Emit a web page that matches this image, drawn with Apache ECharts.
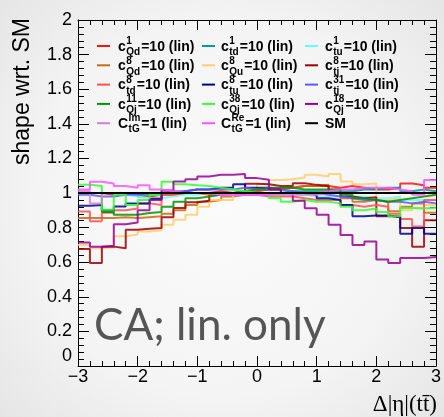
<!DOCTYPE html>
<html><head><meta charset="utf-8">
<script src="https://cdn.jsdelivr.net/npm/echarts@6/dist/echarts.min.js"></script>
<style>html,body{margin:0;padding:0;overflow:hidden}#c{width:444px;height:417px}</style>
</head><body><div id="c"></div>
<script>
// ---- data ----
const xMin = -3, binWidth = 0.2;
const xTicks = [-3, -2, -1, 0, 1, 2, 3];
const yTicks = [0, 0.2, 0.4, 0.6, 0.8, 1, 1.2, 1.4, 1.6, 1.8, 2];

const c1Qd  = [1.00,1.00,0.99,0.99,1.00,0.98,0.97,0.99,1.00,1.00,1.00,1.01,1.00,1.00,1.01,1.02,1.02,1.03,1.04,1.04,1.04,1.03,1.04,1.03,1.02,1.02,1.03,1.055,1.045,1.03];
const c1td  = [1.00,1.00,1.00,1.00,0.99,0.99,0.99,1.00,1.00,1.00,1.00,1.00,1.00,1.00,1.00,1.00,1.00,1.01,1.01,1.01,1.01,1.01,1.01,1.02,1.02,1.03,1.03,1.01,1.02,1.01];
const c1tu  = [1.00,1.00,1.00,0.99,0.98,0.97,0.97,0.98,0.99,0.99,1.00,1.00,1.00,1.00,1.00,1.00,0.99,0.99,0.99,0.98,0.98,0.98,0.98,0.98,0.97,0.97,0.98,0.96,0.96,0.96];
const c8Qd  = [0.855,0.855,0.855,0.86,0.855,0.86,0.865,0.88,0.90,0.93,0.95,0.96,0.98,0.99,1.00,1.02,1.03,1.03,1.04,1.04,1.047,1.02,0.97,0.95,0.96,0.95,0.894,0.92,0.94,0.886];
const c8Qu  = [0.70,0.68,0.685,0.75,0.76,0.778,0.785,0.817,0.846,0.874,0.92,0.96,0.96,1.00,1.02,1.05,1.075,1.08,1.09,1.105,1.095,1.11,1.067,1.05,1.055,0.96,0.97,0.90,0.915,0.93];
const c8tj  = [0.676,0.596,0.69,0.68,0.788,0.794,0.797,0.86,0.913,0.946,0.955,0.99,1.00,1.01,1.053,1.05,1.04,1.04,1.057,1.047,1.04,1.00,0.98,0.97,0.975,0.865,0.865,0.797,0.69,0.842];
const c8td  = [0.893,0.836,0.886,0.90,0.91,0.94,0.93,0.99,1.00,1.00,0.99,1.00,1.00,0.99,0.99,0.98,0.98,0.98,0.97,0.96,0.96,0.96,0.93,0.92,0.93,0.92,0.88,0.85,0.807,0.96];
const c8tu  = [0.926,0.93,0.90,0.922,0.94,0.94,0.965,1.00,1.01,1.02,1.02,1.03,1.03,1.05,1.03,1.03,1.02,1.00,1.00,0.99,0.97,0.96,0.93,0.865,0.87,0.87,0.86,0.765,0.797,0.765];
const c31tj = [0.99,0.98,0.98,0.99,0.99,1.00,1.00,1.01,1.01,1.02,1.02,1.02,1.02,1.03,1.02,1.02,1.02,1.01,1.00,1.00,0.99,0.98,0.97,0.96,0.96,0.95,0.95,0.94,0.95,0.94];
const c11Qj = [1.00,1.00,0.89,0.874,0.874,0.884,0.89,0.92,0.95,0.97,0.98,0.99,1.00,1.01,1.02,1.03,1.03,1.03,1.02,1.02,1.02,1.02,0.99,0.97,0.96,0.95,0.96,0.97,0.98,0.99];
const c38Qj = [1.047,1.04,0.903,0.99,0.93,0.96,0.99,1.065,1.05,1.045,1.04,1.03,1.02,1.01,1.00,0.99,0.97,0.95,0.96,0.95,0.95,0.94,0.92,0.90,0.91,0.89,0.865,0.913,0.91,0.915];
const c18Qj = [0.714,0.69,0.695,0.82,0.83,0.90,0.96,1.015,1.067,1.08,1.095,1.105,1.105,1.11,1.086,1.076,1.02,1.00,0.955,0.912,0.875,0.817,0.757,0.70,0.72,0.615,0.596,0.624,0.624,0.63];
const CImtG = [1.01,0.94,1.00,1.00,1.00,1.00,1.00,1.00,1.00,1.00,1.00,0.99,0.99,0.99,0.99,0.99,0.99,0.99,0.99,0.99,1.00,1.00,1.00,1.00,1.00,1.00,1.00,1.00,1.00,1.00];
const CRetG = [1.02,1.065,1.055,1.04,1.03,1.045,1.02,1.01,1.00,1.00,1.00,0.99,0.99,0.99,0.99,0.99,1.00,1.00,1.00,1.00,1.01,1.02,1.02,1.03,1.03,1.03,1.02,1.01,0.99,1.075];
const SM    = [1,1,1,1,1,1,1,1,1,1,1,1,1,1,1,1,1,1,1,1,1,1,1,1,1,1,1,1,1,1];

// legend entries (row-major, 3 columns): main letter, superscript, subscript, rest
const legendEntries = [
  {key:'c1Qd',  main:'c', sup:'1',  sub:'Qd', rest:'=10 (lin)'},
  {key:'c1td',  main:'c', sup:'1',  sub:'td', rest:'=10 (lin)'},
  {key:'c1tu',  main:'c', sup:'1',  sub:'tu', rest:'=10 (lin)'},
  {key:'c8Qd',  main:'c', sup:'8',  sub:'Qd', rest:'=10 (lin)'},
  {key:'c8Qu',  main:'c', sup:'8',  sub:'Qu', rest:'=10 (lin)'},
  {key:'c8tj',  main:'c', sup:'8',  sub:'tj', rest:'=10 (lin)'},
  {key:'c8td',  main:'c', sup:'8',  sub:'td', rest:'=10 (lin)'},
  {key:'c8tu',  main:'c', sup:'8',  sub:'tu', rest:'=10 (lin)'},
  {key:'c31tj', main:'c', sup:'31', sub:'tj', rest:'=10 (lin)'},
  {key:'c11Qj', main:'c', sup:'11', sub:'Qj', rest:'=10 (lin)'},
  {key:'c38Qj', main:'c', sup:'38', sub:'Qj', rest:'=10 (lin)'},
  {key:'c18Qj', main:'c', sup:'18', sub:'Qj', rest:'=10 (lin)'},
  {key:'CImtG', main:'C', sup:'Im', sub:'tG', rest:'=1 (lin)'},
  {key:'CRetG', main:'C', sup:'Re', sub:'tG', rest:'=1 (lin)'},
  {key:'SM',    main:'SM', sup:'',  sub:'',   rest:''}
];
const seriesData = {c1Qd, c1td, c1tu, c8Qd, c8Qu, c8tj, c8td, c8tu, c31tj, c11Qj, c38Qj, c18Qj, CImtG, CRetG, SM};

// ---- styles ----
const colors = {
  c1Qd:'#ff1010', c1td:'#009a9a', c1tu:'#66ffff', c8Qd:'#cc6a10', c8Qu:'#ffcc70',
  c8tj:'#9c0000', c8td:'#ff5050', c8tu:'#00008f', c31tj:'#5a5aff', c11Qj:'#009400',
  c38Qj:'#33ff33', c18Qj:'#960096', CImtG:'#d47fd4', CRetG:'#ff55ff', SM:'#000000'
};

function stepPoints(vals) {
  const pts = vals.map((v, i) => [+(xMin + i * binWidth).toFixed(3), v]);
  pts.push([+(xMin + vals.length * binWidth).toFixed(3), vals[vals.length - 1]]);
  return pts;
}

const series = legendEntries.map(e => ({
  name: e.key, type: 'line', step: 'end', showSymbol: false, symbol: 'none',
  silent: true, animation: false, clip: true,
  data: stepPoints(seriesData[e.key]),
  lineStyle: {color: colors[e.key], width: 2, opacity: e.key === 'SM' ? 1 : 0.85},
  z: e.key === 'SM' ? 3 : 2
}));

// ---- legend as text ----
const cv = document.createElement('canvas').getContext('2d');
function tw(t, font) { cv.font = font; return cv.measureText(t).width; }
const FMAIN = 'bold 14px "Liberation Sans"';
const FSMALL = 'bold 10px "Liberation Sans"';
const colLine = [97, 202, 305], colText = [118, 221, 325], row0 = 46, rowStep = 19.3;
const graphics = [];
legendEntries.forEach((e, i) => {
  const r = Math.floor(i / 3), c = i % 3, y = row0 + r * rowStep;
  graphics.push({type:'line', silent:true, shape:{x1:colLine[c], y1:y, x2:colLine[c] + 13, y2:y},
    style:{stroke: colors[e.key], lineWidth: 2}});
  let x = colText[c];
  graphics.push({type:'text', silent:true, x: x, y: y + 1,
    style:{text:e.main, font:FMAIN, fill:'#000', align:'left', verticalAlign:'middle', textAlign:'left', textVerticalAlign:'middle'}});
  x += tw(e.main, FMAIN) + 0.5;
  if (e.sup) {
    graphics.push({type:'text', silent:true, x: x, y: y - 4.5,
      style:{text:e.sup, font:FSMALL, fill:'#000', align:'left', verticalAlign:'middle', textAlign:'left', textVerticalAlign:'middle'}});
    graphics.push({type:'text', silent:true, x: x, y: y + 6.5,
      style:{text:e.sub, font:FSMALL, fill:'#000', align:'left', verticalAlign:'middle', textAlign:'left', textVerticalAlign:'middle'}});
    x += Math.max(tw(e.sup, FSMALL), tw(e.sub, FSMALL)) + 1;
    graphics.push({type:'text', silent:true, x: x, y: y + 1,
      style:{text:e.rest, font:FMAIN, fill:'#000', align:'left', verticalAlign:'middle', textAlign:'left', textVerticalAlign:'middle'}});
  }
});
// titles and label
graphics.push({type:'text', silent:true, x: 23, y: 18, rotation: Math.PI / 2,
  style:{text:'shape wrt. SM', font:'23px "Liberation Sans"', fill:'#000', align:'right', verticalAlign:'middle', textAlign:'right', textVerticalAlign:'middle'}});
graphics.push({type:'text', silent:true, x: 437, y: 405,
  style:{text:'\u0394|\u03b7|(tt\u0304)', font:'23px "Liberation Serif", "DejaVu Serif"', fill:'#000', align:'right', verticalAlign:'middle', textAlign:'right', textVerticalAlign:'middle'}});
graphics.push({type:'text', silent:true, x: 94, y: 326,
  style:{text:'CA; lin. only', font:'44px Lato', fill:'#555555', align:'left', verticalAlign:'middle', textAlign:'left', textVerticalAlign:'middle'}});

const axisCommon = {
  type: 'value', splitLine: {show: false},
  axisLine: {show: true, onZero: false, lineStyle: {color: '#000', width: 1}},
};
const fmtX = v => (v < 0 ? '\u2212' + Math.abs(v) : String(v));
const fmtY = v => (Math.abs(v) < 1e-9 ? '{z|0}' : String(+v.toFixed(1)));
const labelFont = {fontFamily: 'Liberation Sans', fontSize: 18, color: '#000'};

const option = {
  animation: false,
  backgroundColor: {type:'radial', x:0.5, y:0.5, r:0.75,
    colorStops:[{offset:0, color:'#fbfbfb'}, {offset:0.6, color:'#f4f4f4'}, {offset:1, color:'#e4e4e4'}]},
  grid: {left: 78, right: 7, top: 20, bottom: 51, containLabel: false},
  xAxis: [
    Object.assign({}, axisCommon, {position:'bottom', min: xTicks[0], max: xTicks[xTicks.length - 1], interval: 1,
      axisTick:{inside:true, length:10, lineStyle:{color:'#000'}},
      minorTick:{show:true, splitNumber:5, length:5, lineStyle:{color:'#000'}},
      axisLabel: Object.assign({formatter: fmtX, margin: 2}, labelFont)}),
    Object.assign({}, axisCommon, {position:'top', min: xTicks[0], max: xTicks[xTicks.length - 1], interval: 1,
      axisTick:{inside:true, length:10, lineStyle:{color:'#000'}},
      minorTick:{show:true, splitNumber:5, length:5, lineStyle:{color:'#000'}},
      axisLabel:{show:false}})
  ],
  yAxis: [
    Object.assign({}, axisCommon, {position:'left', min: yTicks[0], max: yTicks[yTicks.length - 1], interval: 0.2,
      axisTick:{inside:true, length:11, lineStyle:{color:'#000'}},
      minorTick:{show:true, splitNumber:5, length:6, lineStyle:{color:'#000'}},
      axisLabel: Object.assign({formatter: fmtY, margin: 6,
        rich:{z:{fontFamily:'Liberation Sans', fontSize:18, color:'#000', padding:[0,0,20,0]}}}, labelFont)}),
    Object.assign({}, axisCommon, {position:'right', min: yTicks[0], max: yTicks[yTicks.length - 1], interval: 0.2,
      axisTick:{inside:true, length:11, lineStyle:{color:'#000'}},
      minorTick:{show:true, splitNumber:5, length:6, lineStyle:{color:'#000'}},
      axisLabel:{show:false}})
  ],
  series: series,
  graphic: graphics
};
const chart = echarts.init(document.getElementById('c'), null, {renderer:'canvas'});
chart.setOption(option);
</script></body></html>
